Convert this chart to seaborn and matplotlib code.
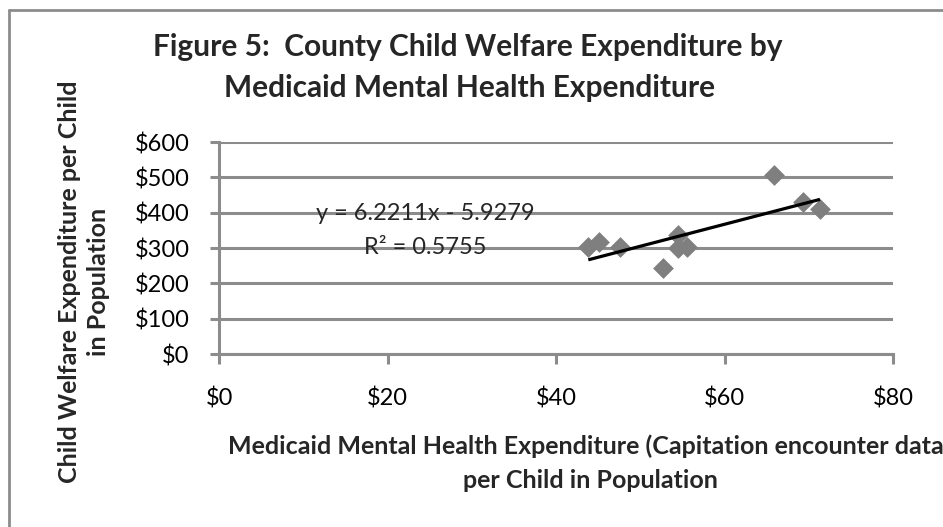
import matplotlib
matplotlib.use("Agg")
import matplotlib.pyplot as plt
from matplotlib.lines import Line2D
from matplotlib.ticker import FuncFormatter, MultipleLocator
import numpy as np
import pandas as pd
import seaborn as sns

# County-level spending per child in population (dollars)
medicaid_mh = [43.8, 45.1, 47.6, 52.7, 54.4, 54.5, 55.5, 65.8, 69.3, 71.3]
child_welfare = [303, 317, 303, 242, 299, 336, 303, 506, 430, 409]

# Linear trendline as reported on the chart
slope = 6.2211
intercept = -5.9279
r_squared = 0.5755

title_lines = ["Figure 5:  County Child Welfare Expenditure by",
               "Medicaid Mental Health Expenditure"]
xlabel_lines = ["Medicaid Mental Health Expenditure (Capitation encounter data",
                "per Child in Population"]
ylabel_lines = ["Child Welfare Expenditure per Child", "in Population"]

sns.set_style("white")
plt.rcParams["font.family"] = ["Lato", "DejaVu Sans"]

W, H = 943, 527
fig = plt.figure(figsize=(W / 100, H / 100), dpi=100)
fig.patch.set_facecolor("white")


def px(x, y):
    return x / W, 1 - y / H


left, right, top, bottom = 219.3, 893.3, 142, 354
ax = fig.add_axes([left / W, 1 - bottom / H, (right - left) / W, (bottom - top) / H])

df = pd.DataFrame({"mh": medicaid_mh, "cw": child_welfare})
grid_c = "#8c8c8c"
pt_c = "#7f7f7f"

sns.scatterplot(data=df, x="mh", y="cw", marker="D", s=112, color=pt_c,
                linewidth=0, ax=ax, zorder=3)

xs = np.array([min(medicaid_mh), max(medicaid_mh)])
ax.plot(xs, slope * xs + intercept, color="black", lw=2.3, zorder=4,
        solid_capstyle="butt")

ax.set_xlim(0, 80)
ax.set_ylim(0, 600)
ax.xaxis.set_major_locator(MultipleLocator(20))
ax.yaxis.set_major_locator(MultipleLocator(100))
fmt = FuncFormatter(lambda v, p: f"${v:,.0f}")
ax.xaxis.set_major_formatter(fmt)
ax.yaxis.set_major_formatter(fmt)
ax.set_xlabel("")
ax.set_ylabel("")

ax.grid(axis="y", color=grid_c, lw=2.2)
ax.grid(axis="x", visible=False)
ax.set_axisbelow(True)
for s in ["top", "right"]:
    ax.spines[s].set_visible(False)
for s in ["left", "bottom"]:
    ax.spines[s].set_color(grid_c)
    ax.spines[s].set_linewidth(2.2)
ax.tick_params(axis="y", direction="out", length=6.5, width=2.2, color=grid_c,
               labelsize=17, pad=15, left=True)
ax.tick_params(axis="x", direction="out", length=7, width=2.2, color=grid_c,
               labelsize=17, pad=17, bottom=True)
for lab in ax.get_xticklabels() + ax.get_yticklabels():
    lab.set_color("black")

# Trendline equation and fit statistic
fig.text(*px(425, 213), f"y = {slope}x - {abs(intercept)}", ha="center", va="center",
         fontsize=17)
fig.text(*px(425, 247), f"R² = {r_squared}", ha="center", va="center", fontsize=17)

# Titles
fig.text(*px(468, 47), title_lines[0], ha="center", va="center",
         fontsize=21.5, fontweight="bold")
fig.text(*px(470, 88), title_lines[1], ha="center", va="center",
         fontsize=21.5, fontweight="bold")

fig.text(*px(228, 446), xlabel_lines[0], ha="left", va="center",
         fontsize=18, fontweight="bold")
fig.text(*px(590, 481), xlabel_lines[1], ha="center", va="center",
         fontsize=18, fontweight="bold")

fig.text(*px(70, 282), ylabel_lines[0], ha="center", va="center", rotation=90,
         fontsize=18, fontweight="bold")
fig.text(*px(98, 282), ylabel_lines[1], ha="center", va="center", rotation=90,
         fontsize=18, fontweight="bold")

# Chart frame (left and top edges fall inside the canvas)
fig.add_artist(Line2D([9 / W, 9 / W], [1 - 10 / H, 0], transform=fig.transFigure,
                      color=grid_c, lw=2))
fig.add_artist(Line2D([9 / W, 1], [1 - 10 / H, 1 - 10 / H], transform=fig.transFigure,
                      color=grid_c, lw=2))

fig.savefig("out.png", dpi=100, facecolor="white")
